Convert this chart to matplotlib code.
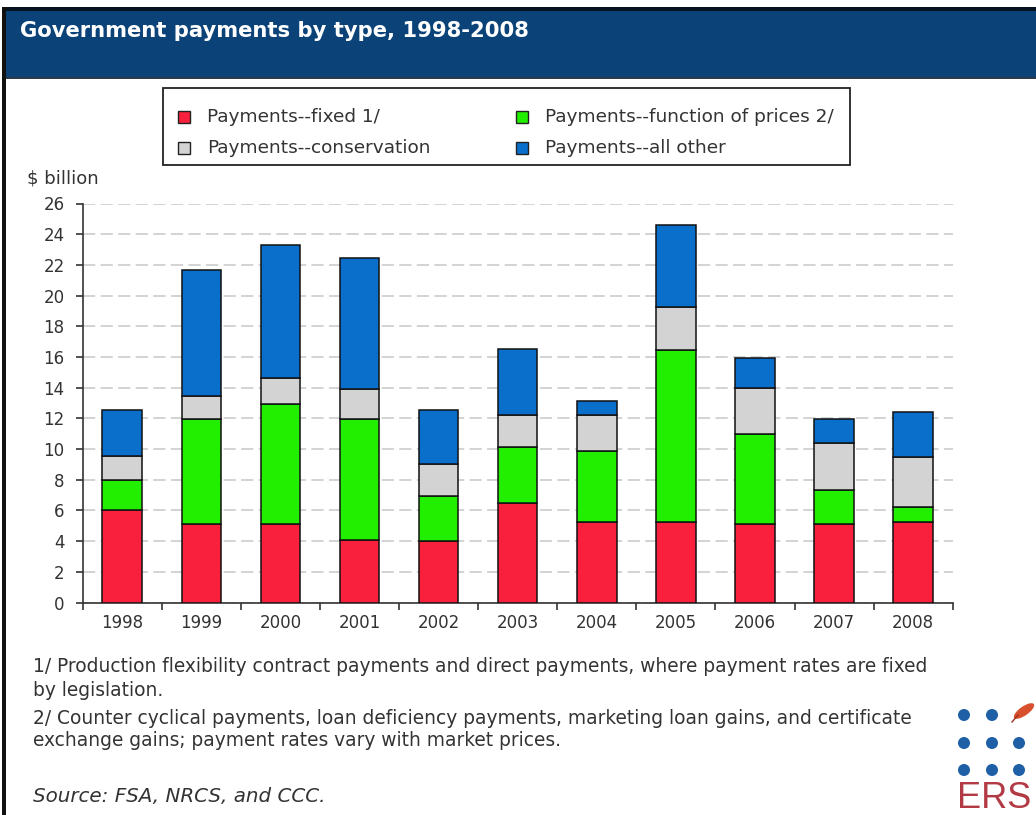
import matplotlib
matplotlib.use("Agg")
import matplotlib.pyplot as plt
from matplotlib.patches import Rectangle, Circle, Ellipse
import numpy as np

plt.rcParams['font.family'] = ['DejaVu Sans']

# ---- data ($ billion) ----
years = ["1998", "1999", "2000", "2001", "2002", "2003", "2004", "2005", "2006", "2007", "2008"]
fixed = [6.05, 5.1, 5.1, 4.1, 4.0, 6.5, 5.25, 5.25, 5.1, 5.1, 5.25]
prices = [1.95, 6.85, 7.85, 7.85, 2.95, 3.65, 4.6, 11.2, 5.9, 2.2, 0.95]
conservation = [1.55, 1.5, 1.7, 1.95, 2.05, 2.05, 2.35, 2.8, 2.95, 3.1, 3.25]
all_other = [3.0, 8.2, 8.65, 8.55, 3.55, 4.35, 0.9, 5.35, 1.95, 1.55, 2.95]

series_labels = ["Payments--fixed 1/", "Payments--function of prices 2/",
                 "Payments--conservation", "Payments--all other"]
series_colors = ["#F8203C", "#22EE00", "#D3D3D3", "#0A6FCB"]
y_ticks = list(range(0, 27, 2))

title = "Government payments by type, 1998-2008"
y_unit = "$ billion"
notes = [
    "1/ Production flexibility contract payments and direct payments, where payment rates are fixed",
    "by legislation.",
    "2/ Counter cyclical payments, loan deficiency payments, marketing loan gains, and certificate",
    "exchange gains; payment rates vary with market prices.",
]
source = "Source: FSA, NRCS, and CCC."

W, H = 1036, 815
fig = plt.figure(figsize=(W / 100, H / 100), dpi=100, facecolor="white")

# full-figure overlay in pixel coordinates for the frame, header and notes
bg = fig.add_axes([0, 0, 1, 1])
bg.set_xlim(0, W)
bg.set_ylim(H, 0)
bg.axis("off")

# header band
bg.add_patch(Rectangle((3, 8), W, 70, facecolor="#0B4379", edgecolor="none"))
bg.add_patch(Rectangle((3, 7), W, 4, facecolor="#05121F", edgecolor="none"))
bg.add_patch(Rectangle((3, 77), W, 2, facecolor="#2A3A4A", edgecolor="none"))
# left border
bg.add_patch(Rectangle((2, 7), 3.5, H, facecolor="#111111", edgecolor="none"))
bg.text(20, 31, title, color="white", fontsize=15.2, fontweight="bold",
        va="center", ha="left")

# legend box
text_col = "#333333"
bg.add_patch(Rectangle((163, 88), 687, 77, facecolor="white", edgecolor="#222222", lw=1.3))
legend_pos = [(178, 117), (178, 148), (516, 117), (516, 148)]
legend_order = [0, 2, 1, 3]
for (lx, ly), k in zip(legend_pos, legend_order):
    bg.add_patch(Rectangle((lx, ly - 6), 12, 12, facecolor=series_colors[k],
                           edgecolor="#222222", lw=1.0))
    bg.text(lx + 29, ly, series_labels[k], fontsize=13.3, color=text_col,
            va="center", ha="left")

bg.text(27, 178, y_unit, fontsize=13, color=text_col, va="center", ha="left")

# notes and source
for yy, line in zip([667, 690, 718, 741], notes):
    bg.text(33, yy, line, fontsize=13.4, color=text_col, va="center", ha="left")
bg.text(33, 797, source, fontsize=14.3, color=text_col, va="center", ha="left",
        style="italic")

# ERS mark
dot_col = "#1F5FA6"
for cx in (964, 992, 1019):
    for cy in (715, 743, 770):
        if cx == 1019 and cy == 715:
            continue
        bg.add_patch(Circle((cx, cy), 6, facecolor=dot_col, edgecolor="none"))
bg.add_patch(Ellipse((1024, 711), 24, 9, angle=-35, facecolor="#D8502E", edgecolor="none"))
bg.plot([1012, 1018], [722, 715], color="#A03020", lw=1)
bg.text(994, 798, "ERS", fontsize=26, color="#B23A44", va="center", ha="center",
        family="Liberation Sans")

# ---- chart ----
ax = fig.add_axes([82.7 / W, (H - 602.5) / H, 870 / W, (602.5 - 203.5) / H])
ax.set_facecolor("none")
x = np.arange(len(years))
bottom = np.zeros(len(years))
for vals, col, lab in zip([fixed, prices, conservation, all_other], series_colors, series_labels):
    ax.bar(x, vals, width=0.5, bottom=bottom, color=col, edgecolor="#111111",
           linewidth=1.1, label=lab, zorder=3)
    bottom += np.array(vals)

ax.set_xlim(-0.5, len(years) - 0.5)
ax.set_ylim(0, 26)
ax.set_yticks(y_ticks)
ax.set_yticklabels([str(v) for v in y_ticks], fontsize=12, color=text_col)
ax.set_xticks(x)
ax.set_xticklabels(years, fontsize=12, color=text_col)
ax.set_xticks(np.arange(-0.5, len(years), 1.0), minor=True)
ax.tick_params(axis="x", which="major", length=0, pad=8)
ax.tick_params(axis="x", which="minor", length=5, width=1.2, color="#333333", direction="out")
ax.tick_params(axis="y", length=5, width=1.2, color="#333333", direction="out", pad=8)
for s in ("top", "right"):
    ax.spines[s].set_visible(False)
for s in ("left", "bottom"):
    ax.spines[s].set_color("#333333")
    ax.spines[s].set_linewidth(1.2)
ax.yaxis.grid(True, color="#C8C8C8", linestyle=(0, (8, 3.5)), linewidth=1.1)
ax.set_axisbelow(True)

fig.savefig("out.png", dpi=100, facecolor="white")
